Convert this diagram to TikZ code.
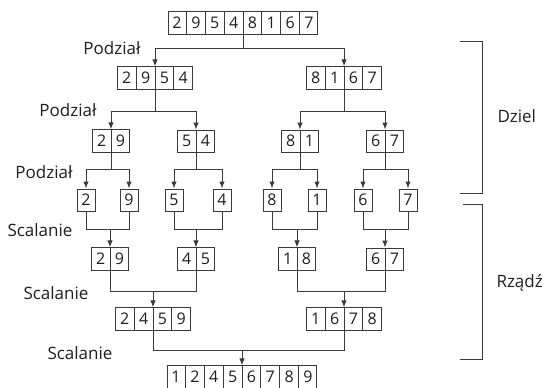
\documentclass[tikz,border=0pt]{standalone}
\usepackage{fontspec}
\setmainfont{Open Sans}
\usetikzlibrary{shapes.multipart, arrows.meta}
\definecolor{inkgray}{HTML}{1E1E1E}
\definecolor{linegray}{HTML}{3A3A3A}

\tikzset{
  cell/.style={draw=linegray, line width=0.9pt, inner xsep=4.4pt, inner ysep=5.3pt,
    text height=11.5pt, text depth=0pt, text=inkgray, font=\fontsize{16}{18}\selectfont},
  cells/.style={cell, rectangle split, rectangle split horizontal, rectangle split parts=#1},
  link/.style={draw=linegray, line width=1pt},
  flow/.style={link, -{Latex[length=7pt,width=5.5pt]}},
  lbl/.style={text=inkgray, font=\fontsize{17}{19}\selectfont}
}

\begin{document}
\begin{tikzpicture}[x=1pt, y=-1pt]
\useasboundingbox (0,0) rectangle (544,388);

% Input array
\node[cells=8] (all) at (243,23) {2\nodepart{two}9\nodepart{three}5\nodepart{four}4\nodepart{five}8\nodepart{six}1\nodepart{seven}6\nodepart{eight}7};

% Split into halves
\node[cells=4] (l) at (155,78) {2\nodepart{two}9\nodepart{three}5\nodepart{four}4};
\node[cells=4] (r) at (344,78) {8\nodepart{two}1\nodepart{three}6\nodepart{four}7};

% Split into pairs
\node[cells=2] (ll) at (111,141) {2\nodepart{two}9};
\node[cells=2] (lr) at (196,141) {5\nodepart{two}4};
\node[cells=2] (rl) at (300,141) {8\nodepart{two}1};
\node[cells=2] (rr) at (385,141) {6\nodepart{two}7};

% Single elements
\foreach \n/\x/\v in {1/86/2, 2/129/9, 3/174/5, 4/222/4, 5/272/8, 6/317/1, 7/363/6, 8/408/7} {
    \node[cell] (e\n) at (\x,200) {\v};
}

% Merged pairs
\node[cells=2] (m1) at (110,259) {2\nodepart{two}9};
\node[cells=2] (m2) at (196,259) {4\nodepart{two}5};
\node[cells=2] (m3) at (297,259) {1\nodepart{two}8};
\node[cells=2] (m4) at (385,259) {6\nodepart{two}7};

% Merged halves
\node[cells=4] (h1) at (153,319) {2\nodepart{two}4\nodepart{three}5\nodepart{four}9};
\node[cells=4] (h2) at (344,319) {1\nodepart{two}6\nodepart{three}7\nodepart{four}8};

% Sorted array
\node[cells=8] (fin) at (242,377) {1\nodepart{two}2\nodepart{three}4\nodepart{four}5\nodepart{five}6\nodepart{six}7\nodepart{seven}8\nodepart{eight}9};

% Split connectors
\draw[link] (all.south) -- ++(0,14) coordinate (j0);
\draw[flow] (j0) -| (l.north);
\draw[flow] (j0) -| (r.north);
\foreach \p/\a/\b in {l/ll/lr, r/rl/rr} {
    \draw[link] (\p.south) -- ++(0,22) coordinate (j\p);
    \draw[flow] (j\p) -| (\a.north);
    \draw[flow] (j\p) -| (\b.north);
}
\foreach \p/\a/\b in {ll/e1/e2, lr/e3/e4, rl/e5/e6, rr/e7/e8} {
    \draw[link] (\p.south) -- ++(0,17) coordinate (j\p);
    \draw[flow] (j\p) -| (\a.north);
    \draw[flow] (j\p) -| (\b.north);
}

% Merge connectors
\foreach \a/\b/\c in {e1/e2/m1, e3/e4/m2, e5/e6/m3, e7/e8/m4} {
    \draw[link] (\a.south) -- ++(0,18) coordinate (k\c) -| (\b.south);
    \draw[flow] (k\c -| \c.north) -- (\c.north);
}
\foreach \a/\b/\c in {m1/m2/h1, m3/m4/h2} {
    \draw[link] (\a.south) -- ++(0,21) coordinate (k\c) -| (\b.south);
    \draw[flow] (k\c -| \c.north) -- (\c.north);
}
\draw[link] (h1.south) -- ++(0,20) coordinate (kfin) -| (h2.south);
\draw[flow] (kfin -| fin.north) -- (fin.north);

% Step labels
\node[lbl] (p1) at (112,48) {Podział};
\node[lbl] (p2) at (68,110) {Podział};
\node[lbl] (p3) at (44,172) {Podział};
\node[lbl] (s1) at (40,230) {Scalanie};
\node[lbl] (s2) at (56,293) {Scalanie};
\node[lbl] (s3) at (80,353) {Scalanie};

% Phase brackets
\draw[link] (460,41) -| (482,193) -- (460,193);
\draw[link] (463,204) -| (482,359) -- (460,359);
\node[lbl, anchor=west] (dz) at (494,116) {Dziel};
\node[lbl, anchor=west] (rz) at (493,283) {Rządź};

\end{tikzpicture}
\end{document}
